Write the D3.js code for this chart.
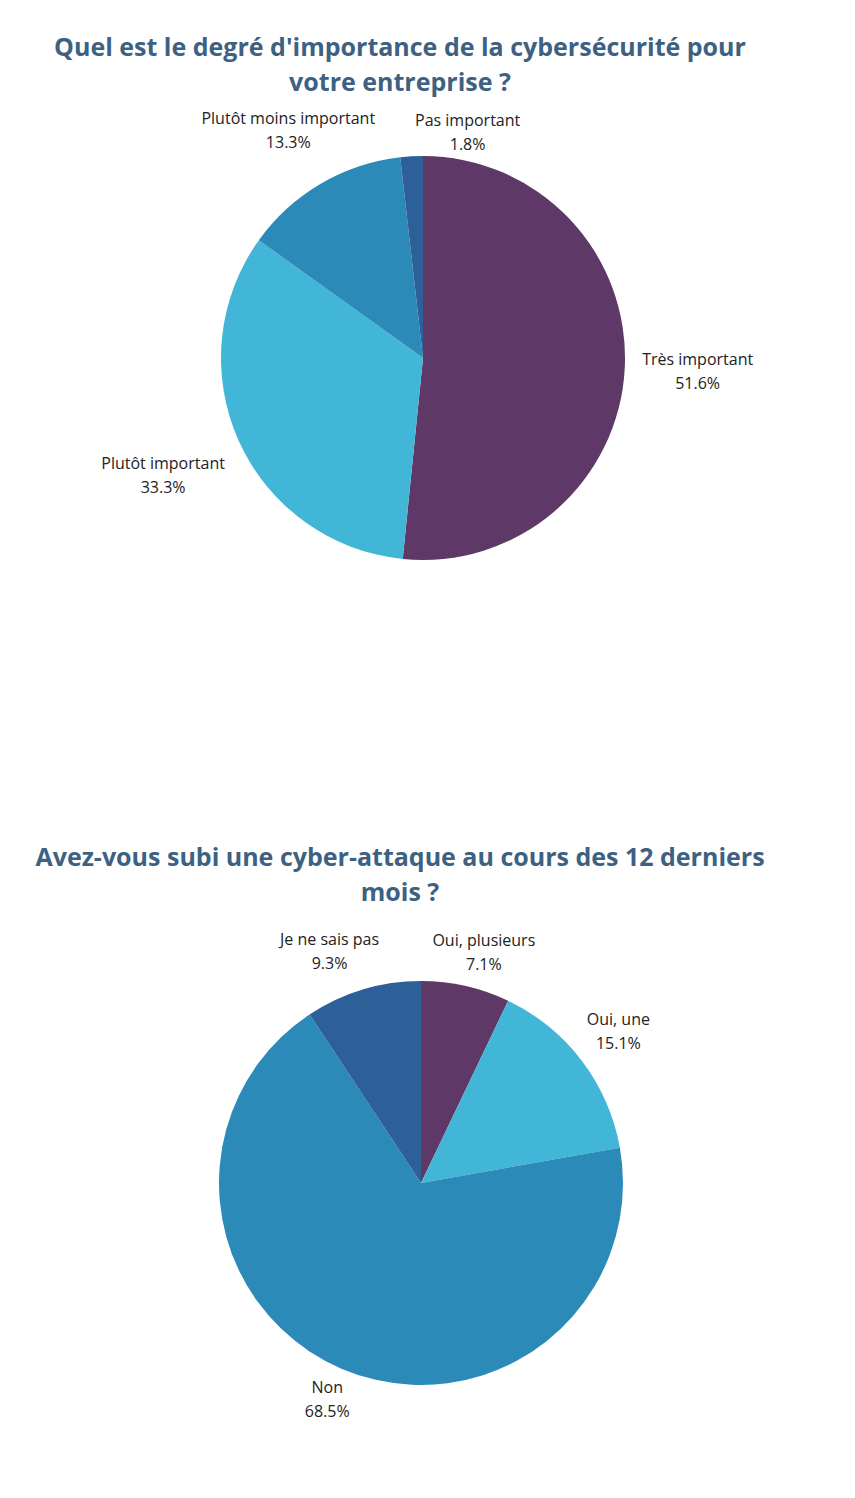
<!DOCTYPE html>
<html><head><meta charset="utf-8">
<script src="https://cdn.jsdelivr.net/npm/d3@7"></script>
<style>body{margin:0;background:#fff}text{font-family:"Open Sans",sans-serif}</style>
</head><body>
<svg id="c" width="855" height="1498"></svg>
<script>
const title1 = ["Quel est le degré d'importance de la cybersécurité pour", "votre entreprise ?"];
const labels1 = ["Très important", "Plutôt important", "Plutôt moins important", "Pas important"];
const values1 = [51.6, 33.3, 13.3, 1.8];
const colors1 = ["#5e3866", "#41b6d6", "#2b8ab8", "#2d5f99"];

const title2 = ["Avez-vous subi une cyber-attaque au cours des 12 derniers", "mois ?"];
const labels2 = ["Oui, plusieurs", "Oui, une", "Non", "Je ne sais pas"];
const values2 = [7.1, 15.1, 68.5, 9.3];
const colors2 = ["#5e3866", "#41b6d6", "#2b8ab8", "#2d5f99"];

const svg = d3.select("#c");
function drawPie(cfg){
  const g = svg.append("g");
  cfg.title.forEach((t,i)=>g.append("text").attr("x",cfg.tx).attr("y",cfg.ty+i*35)
    .attr("text-anchor","middle").attr("font-size",25).attr("font-weight",700)
    .attr("fill","#3d6182").text(t));
  const pie = d3.pie().sort(null).value(d=>d)(cfg.values);
  const arc = d3.arc().innerRadius(0).outerRadius(cfg.r);
  const pg = g.append("g").attr("transform",`translate(${cfg.cx},${cfg.cy})`);
  pg.selectAll("path").data(pie).join("path").attr("d",arc).attr("fill",(d,i)=>cfg.colors[i]);
  const la = d3.arc().innerRadius(cfg.lr).outerRadius(cfg.lr);
  pie.forEach((d,i)=>{
    const [x,y] = la.centroid(d);
    const nx = x + (cfg.nudge[i]||[0,0])[0], ny = y + (cfg.nudge[i]||[0,0])[1];
    const t = pg.append("text").attr("text-anchor","middle").attr("font-size",16).attr("fill","#222");
    t.append("tspan").attr("x",nx).attr("y",ny-5).text(cfg.labels[i]);
    t.append("tspan").attr("x",nx).attr("y",ny+19).text(d.data.toFixed(1)+"%");
  });
}
drawPie({title:title1,tx:400,ty:56,values:values1,labels:labels1,colors:colors1,cx:423,cy:358,r:202,lr:272,
  nudge:[[3,-2],[-12,4],[3,6],[60,45]]});
drawPie({title:title2,tx:400,ty:866,values:values2,labels:labels2,colors:colors2,cx:421,cy:1183,r:202,lr:248,
  nudge:[[8,10],[0,-3],[4,-13],[-20,4]]});
</script>
</body></html>
